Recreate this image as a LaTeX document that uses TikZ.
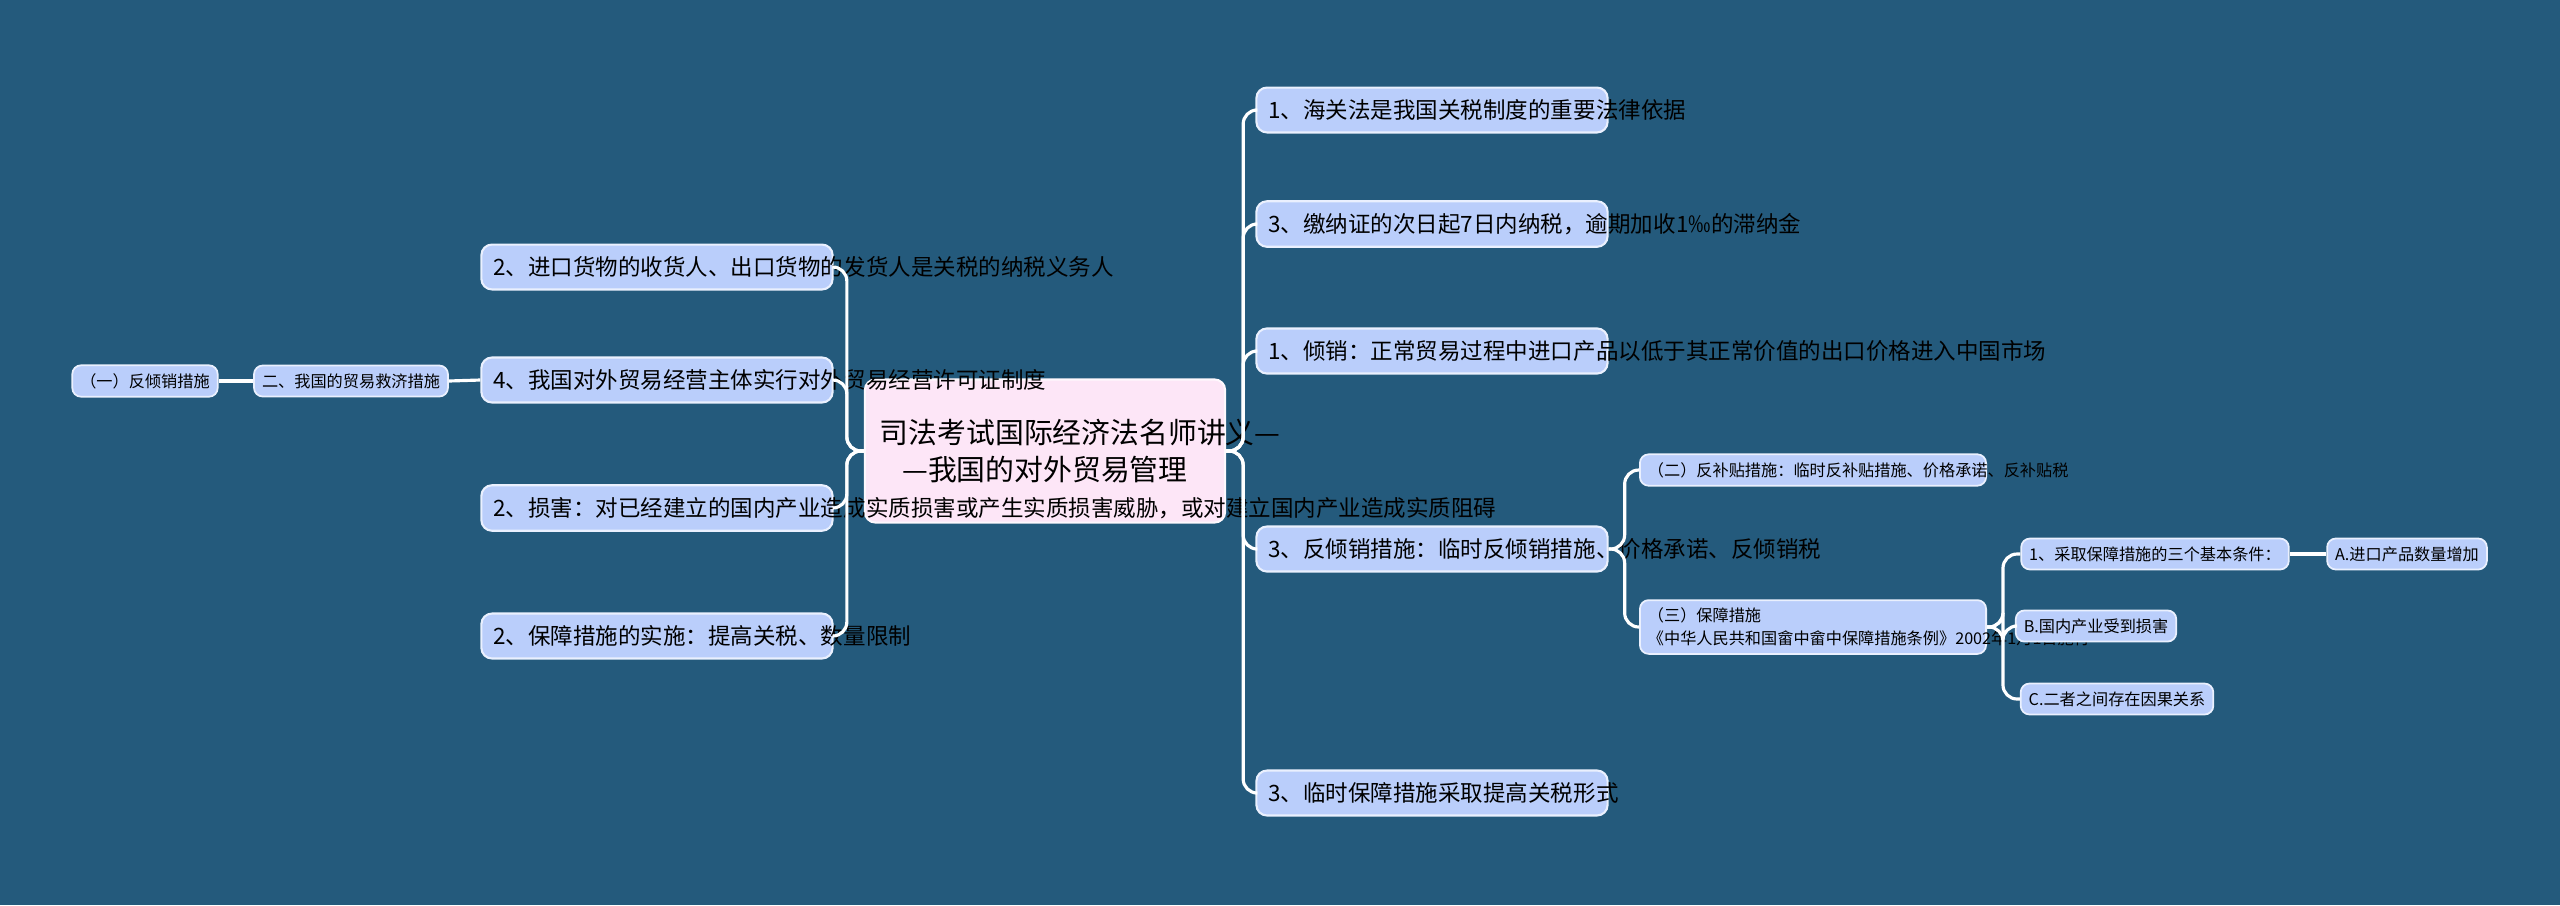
\documentclass[tikz,border=0pt]{standalone}
\usepackage{fontspec}
\setmainfont{Noto Sans CJK SC}
\definecolor{bgblue}{HTML}{245A7C}
\definecolor{boxblue}{HTML}{BACEFB}
\definecolor{rootpink}{HTML}{FDE6F7}
\begin{document}
\begin{tikzpicture}[x=0.01cm,y=-0.01cm,
  topic/.style={draw=white!70!boxblue, fill=boxblue, rounded corners=3pt, line width=0.6pt,
    text width=3.27cm, minimum width=3.51cm, inner sep=0.12cm, align=left, font=\fontsize{6.4}{8.6}\selectfont},
  sub/.style={draw=white!70!boxblue, fill=boxblue, rounded corners=2.5pt, line width=0.5pt,
    inner sep=0.08cm, align=left, font=\fontsize{4.6}{6.4}\selectfont},
  root/.style={draw=white!70!rootpink, fill=rootpink, rounded corners=3pt, line width=0.6pt,
    text width=3.3cm, minimum width=3.6cm, minimum height=1.43cm, align=center, font=\fontsize{8.2}{10.6}\selectfont},
  link/.style={draw=white, line width=0.9pt, rounded corners=4pt}]

    % Background
    \fill[bgblue] (0,0) rectangle (2560,905);

    % Root
    \node[root] (root) at (1045,451) {司法考试国际经济法名师讲义——我国的对外贸易管理};

    % Left branches
    \node[topic] (l1) at (657,267) {2、进口货物的收货人、出口货物的发货人是关税的纳税义务人};
    \node[topic] (l2) at (657,380) {4、我国对外贸易经营主体实行对外贸易经营许可证制度};
    \node[topic] (l3) at (657,508) {2、损害：对已经建立的国内产业造成实质损害或产生实质损害威胁，或对建立国内产业造成实质阻碍};
    \node[topic] (l4) at (657,636) {2、保障措施的实施：提高关税、数量限制};
    \node[sub] (remedy) at (351,381) {二、我国的贸易救济措施};
    \node[sub] (dump) at (145,381) {（一）反倾销措施};

    % Right branches
    \node[topic] (r1) at (1432,110) {1、海关法是我国关税制度的重要法律依据};
    \node[topic] (r2) at (1432,224) {3、缴纳证的次日起7日内纳税，逾期加收1‰的滞纳金};
    \node[topic] (r3) at (1432,351) {1、倾销：正常贸易过程中进口产品以低于其正常价值的出口价格进入中国市场};
    \node[topic] (r4) at (1432,549) {3、反倾销措施：临时反倾销措施、价格承诺、反倾销税};
    \node[topic] (r5) at (1432,793) {3、临时保障措施采取提高关税形式};

    % Third level
    \node[sub, text width=3.3cm] (subsidy) at (1813,470) {（二）反补贴措施：临时反补贴措施、价格承诺、反补贴税};
    \node[sub, text width=3.3cm] (safeguard) at (1813,627) {（三）保障措施 《中华人民共和国畲中畲中保障措施条例》2002年1月1日施行};
    \node[sub] (cond) at (2155,554) {1、采取保障措施的三个基本条件：};
    \node[sub] (ca) at (2407,554) {A.进口产品数量增加};
    \node[sub] (cb) at (2096,626) {B.国内产业受到损害};
    \node[sub] (cc) at (2117,699) {C.二者之间存在因果关系};

    % Connectors
    \foreach \c in {l1,l2,l3,l4}
      \draw[link] (root.west) -- ++(-17,0) |- (\c.east);
    \foreach \c in {r1,r2,r3,r4,r5}
      \draw[link] (root.east) -- ++(17,0) |- (\c.west);
    \draw[link] (l2.west) -- (remedy.east);
    \draw[link] (remedy.west) -- (dump.east);
    \foreach \c in {subsidy,safeguard}
      \draw[link] (r4.east) -- ++(16,0) |- (\c.west);
    \foreach \c in {cond,cb,cc}
      \draw[link] (safeguard.east) -- ++(16,0) |- (\c.west);
    \draw[link] (cond.east) -- (ca.west);

\end{tikzpicture}
\end{document}
